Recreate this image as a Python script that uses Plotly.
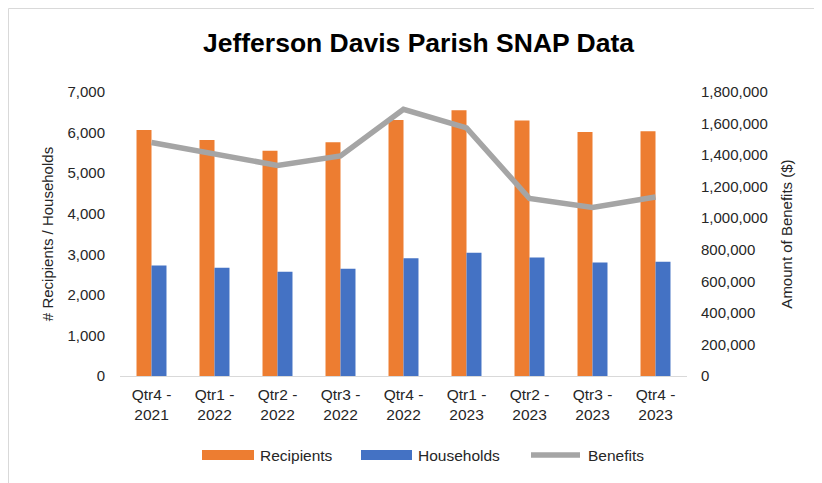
import plotly.graph_objects as go

categories = ["Qtr4 -<br>2021", "Qtr1 -<br>2022", "Qtr2 -<br>2022", "Qtr3 -<br>2022", "Qtr4 -<br>2022",
              "Qtr1 -<br>2023", "Qtr2 -<br>2023", "Qtr3 -<br>2023", "Qtr4 -<br>2023"]
recipients = [6065, 5815, 5555, 5760, 6310, 6550, 6300, 6015, 6030]
households = [2725, 2670, 2570, 2645, 2905, 3035, 2920, 2800, 2815]
benefits = [1480000, 1405000, 1335000, 1395000, 1690000, 1572000, 1125000, 1068000, 1135000]

left_ticks = [0, 1000, 2000, 3000, 4000, 5000, 6000, 7000]
right_ticks = [0, 200000, 400000, 600000, 800000, 1000000, 1200000, 1400000, 1600000, 1800000]

# page is rendered with the browser's default 8px body margin
OFF = 8
W, H = 822 - OFF, 483 - OFF
# plot area in page pixels: x 120..687, y 92..376
L, T = 120 - OFF, 92 - OFF
PW, PH = 567, 284
R, B = W - L - PW, H - T - PH

def px(x):  # page x pixel -> paper x
    return (x - OFF - L) / PW

def py(y):  # page y pixel -> paper y
    return (T + PH - (y - OFF)) / PH

ORANGE = "#ed7d31"
BLUE = "#4472c4"
GRAY = "#a5a5a5"
TXT = "#262626"
FONT = "Liberation Sans, Arial, sans-serif"
FS = 15

fig = go.Figure()
fig.add_trace(go.Bar(x=categories, y=recipients, name="Recipients", marker_color=ORANGE,
                     marker_line_width=0, showlegend=False))
fig.add_trace(go.Bar(x=categories, y=households, name="Households", marker_color=BLUE,
                     marker_line_width=0, showlegend=False))
fig.add_trace(go.Scatter(x=categories, y=benefits, name="Benefits", mode="lines", yaxis="y2",
                         line=dict(color=GRAY, width=5.5), showlegend=False))

shapes = [
    # outer chart frame (continues past the cropped right/bottom edges)
    dict(type="rect", xref="paper", yref="paper", x0=px(8.5), x1=px(840), y0=py(500), y1=py(8.5),
         line=dict(color="#d9d9d9", width=1), fillcolor="rgba(0,0,0,0)", layer="below"),
    # legend swatches
    dict(type="rect", xref="paper", yref="paper", x0=px(202), x1=px(254), y0=py(460), y1=py(450),
         line=dict(width=0), fillcolor=ORANGE),
    dict(type="rect", xref="paper", yref="paper", x0=px(361), x1=px(412), y0=py(460), y1=py(450),
         line=dict(width=0), fillcolor=BLUE),
    dict(type="line", xref="paper", yref="paper", x0=px(531), x1=px(580), y0=py(455), y1=py(455),
         line=dict(color=GRAY, width=5.5)),
]

legend_font = dict(size=15.5, color=TXT, family=FONT)
annotations = [
    dict(text="Recipients", x=px(258), y=py(455), xref="paper", yref="paper", xanchor="left",
         yanchor="middle", showarrow=False, font=legend_font),
    dict(text="Households", x=px(416), y=py(455), xref="paper", yref="paper", xanchor="left",
         yanchor="middle", showarrow=False, font=legend_font),
    dict(text="Benefits", x=px(586), y=py(455), xref="paper", yref="paper", xanchor="left",
         yanchor="middle", showarrow=False, font=legend_font),
]

fig.update_layout(
    width=W, height=H,
    margin=dict(l=L, r=R, t=T, b=B),
    paper_bgcolor="white", plot_bgcolor="white",
    font=dict(family=FONT, size=FS, color=TXT),
    title=dict(text="<b>Jefferson Davis Parish SNAP Data</b>", x=px(418.5), xref="paper", xanchor="center",
               y=1 - (43 - OFF) / H, yanchor="middle", font=dict(size=26.5, color="black", family=FONT)),
    barmode="group", bargap=0.524, bargroupgap=0,
    showlegend=False,
    xaxis=dict(showline=True, linecolor="#d9d9d9", linewidth=1, ticks="", showgrid=False,
               tickfont=dict(size=15.5, color=TXT), ticklabelstandoff=4),
    yaxis=dict(range=[0, 7000], tickvals=left_ticks, tickformat=",d", showgrid=False, zeroline=False,
               showline=False, ticks="", tickfont=dict(size=FS, color=TXT), ticklabelstandoff=14,
               title=dict(text="# Recipients / Households", font=dict(size=FS, color=TXT), standoff=10)),
    yaxis2=dict(range=[0, 1800000], tickvals=right_ticks, tickformat=",d", overlaying="y", side="right",
                showgrid=False, zeroline=False, showline=False, ticks="", tickfont=dict(size=FS, color=TXT),
                ticklabelstandoff=13,
                title=dict(text="Amount of Benefits ($)", font=dict(size=FS, color=TXT), standoff=14)),
    shapes=shapes,
    annotations=annotations,
)

fig.write_html("out.html")
